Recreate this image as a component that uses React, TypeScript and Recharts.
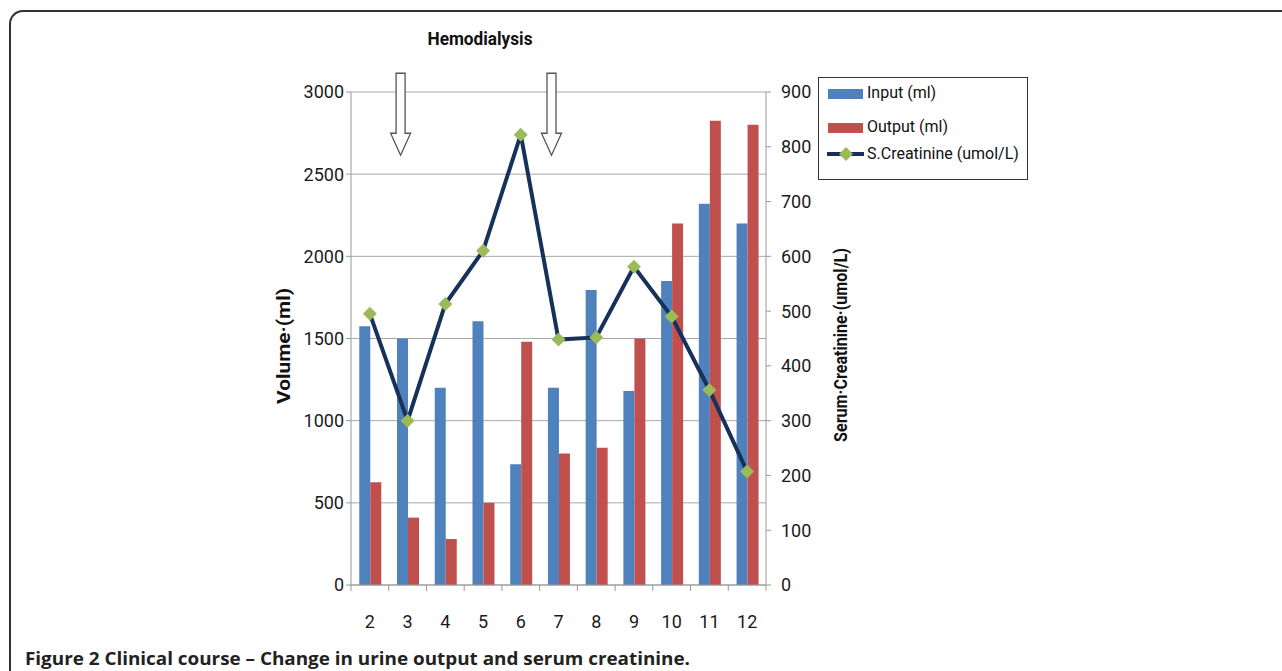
import React from 'react';
import { ComposedChart, Bar, Line, XAxis, YAxis, CartesianGrid, Legend, ReferenceDot } from 'recharts';

const days = ['2', '3', '4', '5', '6', '7', '8', '9', '10', '11', '12'];
const inputMl = [1575, 1500, 1200, 1605, 735, 1200, 1795, 1180, 1850, 2320, 2200];
const outputMl = [625, 410, 280, 500, 1480, 800, 835, 1500, 2200, 2825, 2800];
const creatinine = [495, 300, 513, 610, 822, 448, 452, 581, 490, 356, 207];
const volumeTicks = [0, 500, 1000, 1500, 2000, 2500, 3000];
const creatinineTicks = [0, 100, 200, 300, 400, 500, 600, 700, 800, 900];
const hemodialysisDays = ['3', '7'];
const arrowTipVolume = 2615;

const data = days.map((d, i) => ({ day: d, input: inputMl[i], output: outputMl[i], creat: creatinine[i] }));

const BLUE = '#4f81bd';
const RED = '#c0504d';
const NAVY = '#17325a';
const GREEN = '#9bbb59';
const FONT = 'Roboto, sans-serif';

const Diamond = (props: any) => {
  const { cx, cy } = props;
  if (cx == null || cy == null) return null;
  const s = 7;
  return <polygon points={`${cx},${cy - s} ${cx + s},${cy} ${cx},${cy + s} ${cx - s},${cy}`} fill={GREEN} />;
};

const Arrow = (props: any) => {
  const { cx, cy } = props;
  if (cx == null || cy == null) return null;
  const x = cx - 7;
  const t = cy;
  const d = `M${x - 4.5},${t - 82} L${x + 4.5},${t - 82} L${x + 4.5},${t - 22} L${x + 10},${t - 22} L${x},${t} L${x - 10},${t - 22} L${x - 4.5},${t - 22} Z`;
  return <path d={d} fill="#fff" stroke="#555" strokeWidth={1.3} />;
};

const XTick = (props: any) => {
  const { x, y, payload, index } = props;
  const half = payload && typeof payload.offset === 'number' && payload.offset > 0 ? payload.offset : 18.86;
  return (
    <g>
      <line x1={x - half} x2={x - half} y1={y - 6} y2={y} stroke="#999" strokeWidth={1} />
      {index === days.length - 1 && <line x1={x + half} x2={x + half} y1={y - 6} y2={y} stroke="#999" strokeWidth={1} />}
      <text x={x} y={y + 37} textAnchor="middle" fontSize={18} fontFamily={FONT} fill="#1a1a1a">
        {payload.value}
      </text>
    </g>
  );
};

const LegendBox = () => (
  <div
    style={{
      width: 210,
      height: 103,
      border: '1.5px solid #333',
      background: '#fff',
      fontFamily: FONT,
      fontSize: 16,
      color: '#111',
      position: 'relative',
      boxSizing: 'border-box',
    }}
  >
    <div style={{ position: 'absolute', left: 9, top: 11, width: 35, height: 10, background: BLUE }} />
    <div style={{ position: 'absolute', left: 48, top: 5, lineHeight: '20px', whiteSpace: 'nowrap' }}>Input (ml)</div>
    <div style={{ position: 'absolute', left: 9, top: 45, width: 35, height: 10, background: RED }} />
    <div style={{ position: 'absolute', left: 48, top: 39, lineHeight: '20px', whiteSpace: 'nowrap' }}>Output (ml)</div>
    <svg style={{ position: 'absolute', left: 8, top: 66 }} width={38} height={20}>
      <line x1={0} x2={37} y1={10} y2={10} stroke={NAVY} strokeWidth={4} />
      <polygon points="19,3 26,10 19,17 12,10" fill={GREEN} />
    </svg>
    <div style={{ position: 'absolute', left: 48, top: 66, lineHeight: '20px', whiteSpace: 'nowrap' }}>S.Creatinine (umol/L)</div>
  </div>
);

export default function App() {
  return (
    <div style={{ position: 'absolute', left: 0, top: 0, width: 1282, height: 671, overflow: 'hidden', background: '#fff', fontFamily: FONT }}>
      <div
        style={{
          position: 'absolute',
          left: 9,
          top: 10,
          width: 1400,
          height: 800,
          borderTop: '2px solid #333',
          borderLeft: '2px solid #333',
          borderTopLeftRadius: 14,
        }}
      />
      <div style={{ position: 'absolute', left: 0, top: 0 }}>
        <ComposedChart
          width={1282}
          height={671}
          data={data}
          margin={{ top: 92, right: 456, bottom: 36, left: 291 }}
          barCategoryGap="22%"
          barGap={0}
        >
          <CartesianGrid vertical={false} stroke="#a8a8a8" yAxisId="left" xAxisId="cat" />
          <XAxis
            xAxisId="cat"
            dataKey="day"
            height={50}
            axisLine={{ stroke: '#999' }}
            tickLine={false}
            tickSize={6}
            tickMargin={0}
            interval={0}
            tick={<XTick />}
          />
          <YAxis
            yAxisId="left"
            orientation="left"
            width={60}
            domain={[0, 3000]}
            ticks={volumeTicks}
            interval={0}
            axisLine={{ stroke: '#999' }}
            tickLine={{ stroke: '#999' }}
            tickSize={5}
            tickMargin={2}
            tick={{ fill: '#1a1a1a', fontSize: 18, fontFamily: FONT }}
          />
          <YAxis
            yAxisId="right"
            orientation="right"
            width={60}
            domain={[0, 900]}
            ticks={creatinineTicks}
            interval={0}
            axisLine={{ stroke: '#999' }}
            tickLine={{ stroke: '#999' }}
            tickSize={5}
            tickMargin={10}
            tick={{ fill: '#1a1a1a', fontSize: 18, fontFamily: FONT, textAnchor: 'start' }}
          />
          <Bar xAxisId="cat" yAxisId="left" dataKey="input" name="Input (ml)" fill={BLUE} isAnimationActive={false} />
          <Bar xAxisId="cat" yAxisId="left" dataKey="output" name="Output (ml)" fill={RED} isAnimationActive={false} />
          <Line
            xAxisId="cat"
            yAxisId="right"
            dataKey="creat"
            name="S.Creatinine (umol/L)"
            stroke={NAVY}
            strokeWidth={4}
            dot={<Diamond />}
            activeDot={false}
            isAnimationActive={false}
          />
          {hemodialysisDays.map((d) => (
            <ReferenceDot key={d} xAxisId="cat" yAxisId="left" x={d} y={arrowTipVolume} ifOverflow="visible" shape={<Arrow />} />
          ))}
          <Legend
            layout="horizontal"
            verticalAlign="middle"
            align="center"
            content={<LegendBox />}
            wrapperStyle={{ position: 'absolute', left: 818, top: 77, width: 212, height: 105 }}
          />
        </ComposedChart>
      </div>
      <svg style={{ position: 'absolute', left: 0, top: 0, pointerEvents: 'none' }} width={1282} height={671}>
        <text x={480} y={45} textAnchor="middle" fontSize={18} fontWeight={700} fontFamily={FONT} fill="#111" textLength={105} lengthAdjust="spacingAndGlyphs">
          Hemodialysis
        </text>
        <text
          transform="translate(283,346) rotate(-90)"
          textAnchor="middle"
          dominantBaseline="central"
          fontSize={19}
          fontWeight={700}
          fontFamily={FONT}
          fill="#111"
          textLength={116}
          lengthAdjust="spacingAndGlyphs"
        >
          Volume·(ml)
        </text>
        <text
          transform="translate(840,345) rotate(-90)"
          textAnchor="middle"
          dominantBaseline="central"
          fontSize={19}
          fontWeight={700}
          fontFamily={FONT}
          fill="#111"
          textLength={194}
          lengthAdjust="spacingAndGlyphs"
        >
          Serum·Creatinine·(umol/L)
        </text>
        <text x={25} y={665} fontSize={18} fontWeight={700} fontFamily="'Open Sans', sans-serif" fill="#222" textLength={665} lengthAdjust="spacingAndGlyphs">
          Figure 2 Clinical course – Change in urine output and serum creatinine.
        </text>
      </svg>
    </div>
  );
}
